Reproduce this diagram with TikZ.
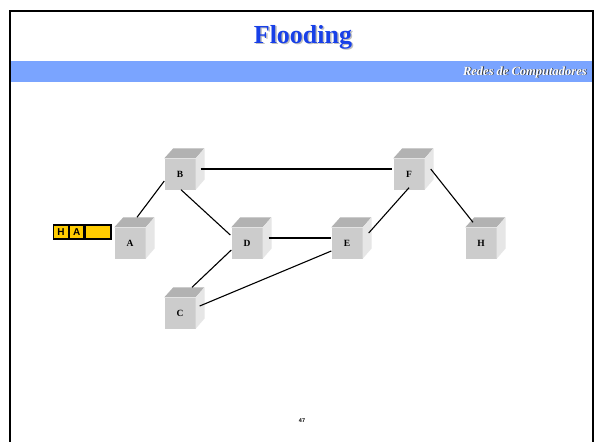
\documentclass[tikz,border=0pt]{standalone}
\usepackage{fontspec}
\setmainfont{Liberation Serif}
\newfontfamily\arialfont{Liberation Sans}
\usetikzlibrary{positioning}

\definecolor{titleblue}{RGB}{24,64,232}
\definecolor{bandblue}{RGB}{122,164,255}
\definecolor{cubefront}{RGB}{204,204,204}
\definecolor{cubetop}{RGB}{178,178,178}
\definecolor{cubeside}{RGB}{230,230,230}
\definecolor{pktyellow}{RGB}{255,204,0}

\tikzset{
  cubebox/.style={rectangle, fill=cubefront, minimum width=31pt, minimum height=31pt,
    inner sep=0pt},
  cubelabel/.style={font=\fontsize{9.5}{10}\selectfont\bfseries},
  cubetopface/.style={fill=cubetop},
  cubesideface/.style={fill=cubeside},
  link/.style={draw=black, line width=1.1pt},
  pktcell/.style={rectangle, draw=black, line width=1.2pt, fill=pktyellow, inner sep=0pt,
    minimum height=14pt, font=\arialfont\fontsize{10}{10}\selectfont\bfseries},
}

% a network node drawn as a shaded cube: front face is the node itself
\newcommand{\netcube}[4]{%
  \node[cubebox] (#1) at (#2,#3) {};
  \fill[cubetopface] (#1.north west) -- ++(9,-10) -- ++(31,0) -- (#1.north east) -- cycle;
  \fill[cubesideface] (#1.north east) -- ++(9,-10) -- ++(0,31) -- (#1.south east) -- cycle;
  \node[cubelabel] at (#1.center) {#4};
}

\begin{document}
\begin{tikzpicture}[x=1pt,y=-1pt]
  \useasboundingbox (0,0) rectangle (595,442);
  \fill[white] (0,0) rectangle (595,442);

  % slide frame and header band
  \fill[bandblue] (11,61) rectangle (592,82);
  \draw[line width=2.4pt] (10,445) -- (10,11) -- (593,11) -- (593,445);

  % title and course name (with soft shadows)
  \node[text=black!25, font=\fontsize{26}{28}\selectfont\bfseries] at (304.5,38.5) {Flooding};
  \node[text=titleblue, font=\fontsize{26}{28}\selectfont\bfseries] (title) at (303,37) {Flooding};
  \node[anchor=east, text=black!80, font=\fontsize{12.5}{13}\selectfont\bfseries\itshape] at (591,72.8) {Redes de Computadores};
  \node[anchor=east, text=white, font=\fontsize{12.5}{13}\selectfont\bfseries\itshape] (course) at (590.2,72) {Redes de Computadores};

  % network nodes
  \netcube{A}{130}{243}{A}
  \netcube{B}{180}{174}{B}
  \netcube{C}{180}{313}{C}
  \netcube{D}{247}{243}{D}
  \netcube{E}{347}{243}{E}
  \netcube{F}{409}{174}{F}
  \netcube{H}{481}{243}{H}

  % links
  \draw[link] ([shift={(7,-10)}]A.north) -- ([shift={(0,7)}]B.west);
  \draw[link] ([shift={(5,-5)}]B.east) -- ([shift={(-1,-5)}]F.west);
  \draw[link] ([shift={(1,0)}]B.south) -- ([shift={(-1,-8)}]D.west);
  \draw[link] ([shift={(6,-5)}]D.east) -- ([shift={(0,-5)}]E.west);
  \draw[link] ([shift={(0,7)}]D.west) -- ([shift={(12,-10)}]C.north);
  \draw[link] ([shift={(4,-7)}]C.east) -- ([shift={(0,8)}]E.west);
  \draw[link] ([shift={(6,-10)}]E.east) -- ([shift={(0,-2)}]F.south);
  \draw[link] ([shift={(6,-5)}]F.east) -- ([shift={(-8,-5)}]H.north);

  % packet waiting at A: header fields H and A
  \node[pktcell, minimum width=15pt] (pH) at (61,232) {H};
  \node[pktcell, minimum width=14pt, right=0pt of pH] (pA) {A};
  \node[pktcell, minimum width=26pt, right=0pt of pA] (pData) {};

  % page number
  \node[font=\arialfont\fontsize{5.5}{6}\selectfont\bfseries] (page) at (302,421) {47};
\end{tikzpicture}
\end{document}
